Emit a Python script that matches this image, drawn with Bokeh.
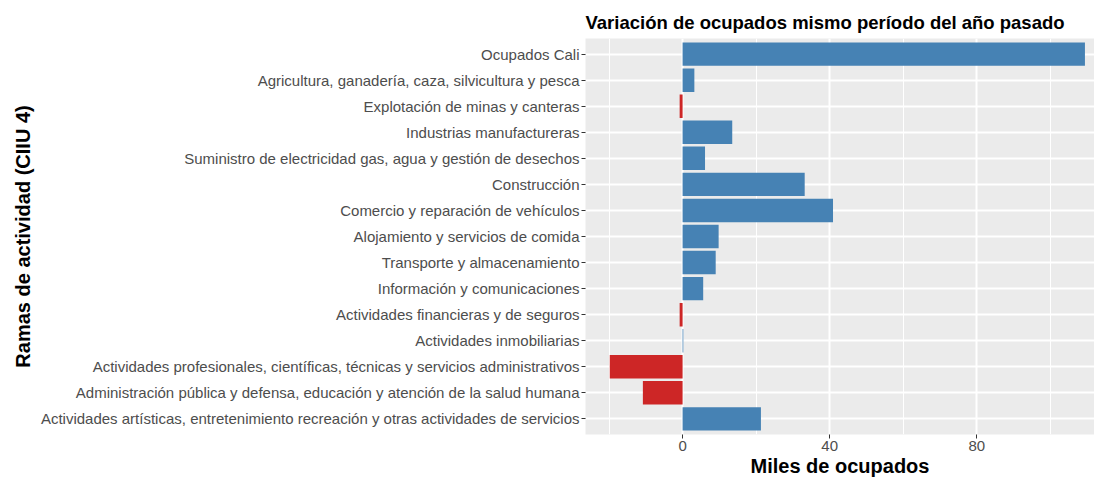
from bokeh.plotting import figure
from bokeh.models import FactorRange, Range1d, FixedTicker, ColumnDataSource
from bokeh.embed import file_html
from bokeh.resources import INLINE

categories = [
    "Ocupados Cali",
    "Agricultura, ganadería, caza, silvicultura y pesca",
    "Explotación de minas y canteras",
    "Industrias manufactureras",
    "Suministro de electricidad gas, agua y gestión de desechos",
    "Construcción",
    "Comercio y reparación de vehículos",
    "Alojamiento y servicios de comida",
    "Transporte y almacenamiento",
    "Información y comunicaciones",
    "Actividades financieras y de seguros",
    "Actividades inmobiliarias",
    "Actividades profesionales, científicas, técnicas y servicios administrativos",
    "Administración pública y defensa, educación y atención de la salud humana",
    "Actividades artísticas, entretenimiento recreación y otras actividades de servicios",
]
values = [109.4, 3.2, -0.8, 13.5, 6.1, 33.2, 40.9, 9.8, 9.0, 5.6, -0.8, 0.2, -19.8, -10.8, 21.3]
x_ticks = [0, 40, 80]
x_minor_ticks = [-20, 20, 60, 100]

title_text = "Variación de ocupados mismo período del año pasado"
x_title = "Miles de ocupados"
y_title = "Ramas de actividad (CIIU 4)"

POS = "#4682B4"
NEG = "#CD2626"
colors = [POS if v >= 0 else NEG for v in values]
src = ColumnDataSource(dict(cat=categories, val=values, color=colors))

FONT = "Liberation Sans"

p = figure(
    width=1094, height=480,
    y_range=FactorRange(factors=categories[::-1], range_padding=0.1, range_padding_units="absolute"),
    x_range=Range1d(-26.4, 112.0),
    output_backend="svg", toolbar_location=None,
    min_border_left=585, min_border_right=0, min_border_top=38, min_border_bottom=46,
)
p.background_fill_color = "#EBEBEB"
p.border_fill_color = "white"
p.outline_line_color = None

p.hbar(y="cat", left=0, right="val", height=0.9, fill_color="color", line_color=None, source=src)

ticker = FixedTicker(ticks=x_ticks, minor_ticks=x_minor_ticks)
p.xaxis.ticker = ticker
p.xgrid.ticker = ticker
p.xgrid.grid_line_color = "white"
p.xgrid.grid_line_width = 2
p.xgrid.minor_grid_line_color = "white"
p.xgrid.minor_grid_line_width = 1
p.ygrid.grid_line_color = "white"
p.ygrid.grid_line_width = 2

for ax in (p.xaxis, p.yaxis):
    ax.axis_line_color = None
    ax.major_tick_line_color = "#333333"
    ax.major_tick_line_width = 1
    ax.major_tick_out = 4
    ax.major_tick_in = 0
    ax.minor_tick_line_color = None
    ax.major_label_text_font = FONT
    ax.major_label_text_font_size = "15px"
    ax.major_label_text_color = "#4D4D4D"
    ax.major_label_standoff = 2
    ax.axis_label_text_font = FONT
    ax.axis_label_text_font_size = "20px"
    ax.axis_label_text_font_style = "bold"
    ax.axis_label_text_color = "black"

p.xaxis.axis_label = x_title
p.yaxis.axis_label = y_title
p.xaxis.axis_label_standoff = 1
p.yaxis.axis_label_standoff = 4

p.title.text = title_text
p.title.align = "left"
p.title.text_font = FONT
p.title.text_font_size = "18.5px"
p.title.text_font_style = "bold"
p.title.text_color = "black"
p.title.offset = 0
p.title.standoff = 12

open("out.html", "w").write(file_html(p, INLINE))
